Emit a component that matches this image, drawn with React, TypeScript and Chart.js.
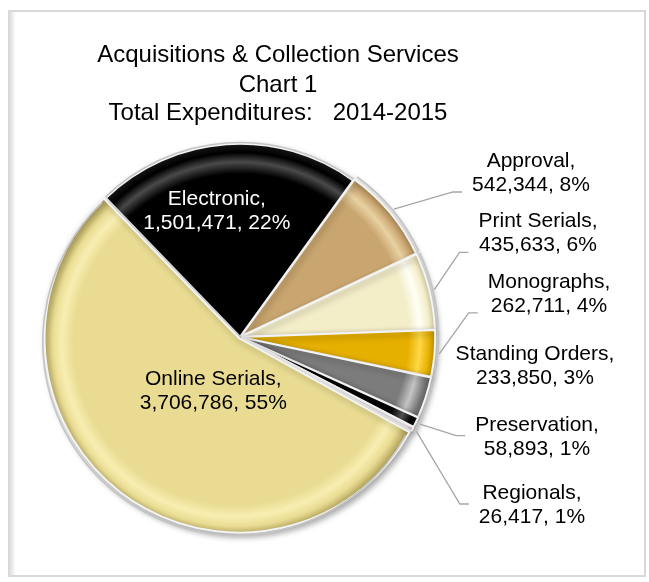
import React, { useEffect, useRef } from "react";
import { Chart, registerables } from "chart.js";

Chart.register(...registerables);

// ---------- data ----------
const titleLines = ["Acquisitions & Collection Services", "Chart 1", "Total Expenditures:   2014-2015"];
const categories = ["Electronic", "Approval", "Print Serials", "Monographs", "Standing Orders", "Preservation", "Regionals", "Online Serials"];
const expenditures = [1501471, 542344, 435633, 262711, 233850, 58893, 26417, 3706786];
const percentLabels = ["22%", "8%", "6%", "4%", "3%", "1%", "1%", "55%"];

// ---------- styles ----------
const baseColors = ["#000000", "#C9A56F", "#F3EDC8", "#E6B000", "#7C7C7C", "#050505", "#FBF6F6", "#E9DC92"];
const lightColors = ["#4a4a4a", "#E8D1A2", "#FFFFF6", "#FFD845", "#C4C4C4", "#5a5a5a", "#ffffff", "#F8EEB2"];
const darkColors = ["#1c1c1c", "#9C7E4C", "#C4BC96", "#A57E00", "#4A4A4A", "#1c1c1c", "#d88888", "#B3A35C"];
const sliceOffsets = [1, 5, 5, 5, 5, 5, 5, 6];
const labelColors = ["#ffffff", "#000", "#000", "#000", "#000", "#000", "#000", "#000"];
// inside labels: fraction of radius and angular shift (deg)
const insideFrac: Record<number, number> = { 0: 0.668, 7: 0.306 };
const insideShift: Record<number, number> = { 0: -6.3, 7: -10.5 };
// outside label nudges (px), in order of outside labels
const outsideNudgeX = [-6, 1, 12, -2, 0, -5];
const outsideNudgeY = [0, -6, -12, -6, -2, 0];

const ROTATION = -44;
const RADIUS = 193;
const FONT_FAMILY = '"Liberation Sans", Arial, Helvetica, sans-serif';
const TITLE_X = 278;
const TITLE_BASELINES = [62, 92, 120];
const LABEL_X = 537;
const LABEL_TOP = 172;
const LABEL_BOTTOM = 504;

function sliceAngles() {
  const total = expenditures.reduce((a, b) => a + b, 0);
  let a = ((ROTATION - 90) * Math.PI) / 180;
  return expenditures.map((v) => {
    const s = a;
    const e = a + (v / total) * Math.PI * 2;
    a = e;
    return { s, e, m: (s + e) / 2 };
  });
}

function labelLines(i: number) {
  return [categories[i] + ",", expenditures[i].toLocaleString("en-US") + ", " + percentLabels[i]];
}

const framePlugin = {
  id: "frame",
  beforeDraw(chart: any) {
    const ctx = chart.ctx as CanvasRenderingContext2D;
    ctx.save();
    ctx.fillStyle = "#ffffff";
    ctx.fillRect(0, 0, chart.width, chart.height);
    ctx.strokeStyle = "#d9d9d9";
    ctx.lineWidth = 2;
    ctx.strokeRect(9, 11, 636, 565);
    const g = ctx.createLinearGradient(10, 0, 16, 0);
    g.addColorStop(0, "rgba(0,0,0,0.13)");
    g.addColorStop(1, "rgba(0,0,0,0)");
    ctx.fillStyle = g;
    ctx.fillRect(10, 12, 6, 563);
    // title
    ctx.fillStyle = "#000";
    ctx.font = "24px " + FONT_FAMILY;
    ctx.textAlign = "center";
    ctx.textBaseline = "alphabetic";
    titleLines.forEach((t, k) => ctx.fillText(t, TITLE_X, TITLE_BASELINES[k]));
    ctx.restore();
  },
  beforeDatasetsDraw(chart: any) {
    const ctx = chart.ctx as CanvasRenderingContext2D;
    ctx.save();
    ctx.shadowColor = "rgba(0,0,0,0.35)";
    ctx.shadowBlur = 6;
    ctx.shadowOffsetX = 2;
    ctx.shadowOffsetY = 3;
  },
  afterDatasetsDraw(chart: any) {
    const ctx = chart.ctx as CanvasRenderingContext2D;
    ctx.restore();
    const meta = chart.getDatasetMeta(0);
    ctx.save();
    meta.data.forEach((arc: any, i: number) => {
      const p = arc.getProps(["x", "y", "startAngle", "endAngle", "outerRadius"], true);
      const m = (p.startAngle + p.endAngle) / 2;
      const off = sliceOffsets[i];
      const cx = p.x + Math.cos(m) * off;
      const cy = p.y + Math.sin(m) * off;
      ctx.beginPath();
      ctx.arc(cx, cy, p.outerRadius + 0.5, p.startAngle, p.endAngle);
      ctx.strokeStyle = "#c4c4c4";
      ctx.lineWidth = 1.6;
      ctx.stroke();
    });
    ctx.restore();
  },
  afterDraw(chart: any) {
    const ctx = chart.ctx as CanvasRenderingContext2D;
    const meta = chart.getDatasetMeta(0);
    ctx.save();
    ctx.font = "21px " + FONT_FAMILY;
    ctx.textAlign = "center";
    ctx.textBaseline = "alphabetic";
    const outside: number[] = [];
    meta.data.forEach((_: any, i: number) => {
      if (insideFrac[i] === undefined) outside.push(i);
    });
    meta.data.forEach((arc: any, i: number) => {
      const p = arc.getProps(["x", "y", "startAngle", "endAngle", "outerRadius"], true);
      const m = (p.startAngle + p.endAngle) / 2;
      const lines = labelLines(i);
      if (insideFrac[i] !== undefined) {
        const r = p.outerRadius * insideFrac[i];
        const a = m + ((insideShift[i] || 0) * Math.PI) / 180;
        const c = p.y + Math.sin(a) * r;
        const x = p.x + Math.cos(a) * r;
        ctx.fillStyle = labelColors[i];
        ctx.fillText(lines[0], x, c - 5);
        ctx.fillText(lines[1], x, c + 19);
        return;
      }
      const k = outside.indexOf(i);
      const c = LABEL_TOP + ((LABEL_BOTTOM - LABEL_TOP) * k) / (outside.length - 1) + (outsideNudgeY[k] || 0);
      const lx = LABEL_X + (outsideNudgeX[k] || 0);
      ctx.fillStyle = labelColors[i];
      ctx.fillText(lines[0], lx, c - 5);
      ctx.fillText(lines[1], lx, c + 19);
      const w = Math.max(ctx.measureText(lines[0]).width, ctx.measureText(lines[1]).width);
      const left = lx - w / 2;
      const rr = p.outerRadius + sliceOffsets[i] + 2;
      const sx = p.x + Math.cos(m) * rr;
      const sy = p.y + Math.sin(m) * rr;
      if (left - sx > 34) {
        const ay = sy > c ? c + 20 : c;
        const ex = left - 10;
        ctx.beginPath();
        ctx.moveTo(sx, sy);
        ctx.lineTo(ex - 9, ay);
        ctx.lineTo(ex, ay);
        ctx.strokeStyle = "#a6a6a6";
        ctx.lineWidth = 1.3;
        ctx.stroke();
      }
    });
    ctx.restore();
  },
};

export default function App() {
  const ref = useRef<HTMLCanvasElement>(null);
  useEffect(() => {
    const angles = sliceAngles();
    const chart = new Chart(ref.current!, {
      type: "pie",
      data: {
        labels: categories,
        datasets: [
          {
            data: expenditures,
            radius: RADIUS,
            offset: sliceOffsets,
            borderColor: "#f4f4f4",
            borderWidth: 2,
            backgroundColor: (ctx: any) => {
              const i = ctx.dataIndex;
              const ca = ctx.chart.chartArea;
              if (!ca) return baseColors[i];
              const m = angles[i].m;
              const cx = (ca.left + ca.right) / 2 + Math.cos(m) * sliceOffsets[i];
              const cy = (ca.top + ca.bottom) / 2 + Math.sin(m) * sliceOffsets[i];
              const g = ctx.chart.ctx.createRadialGradient(cx, cy, 0, cx, cy, RADIUS);
              g.addColorStop(0, baseColors[i]);
              g.addColorStop(0.84, baseColors[i]);
              g.addColorStop(0.9, lightColors[i]);
              g.addColorStop(0.95, baseColors[i]);
              g.addColorStop(1, darkColors[i]);
              return g;
            },
          } as any,
        ],
      },
      options: {
        animation: false,
        responsive: false,
        devicePixelRatio: 1,
        rotation: ROTATION,
        layout: { padding: { left: 40, top: 137, right: 209, bottom: 45 } },
        plugins: {
          legend: { display: false },
          title: { display: false },
          tooltip: { enabled: false },
        },
      },
      plugins: [framePlugin],
    });
    return () => chart.destroy();
  }, []);
  return (
    <div style={{ position: "absolute", left: 0, top: 0, width: 649, height: 582, background: "#fff" }}>
      <canvas ref={ref} width={649} height={582} style={{ display: "block", width: 649, height: 582 }} />
    </div>
  );
}
